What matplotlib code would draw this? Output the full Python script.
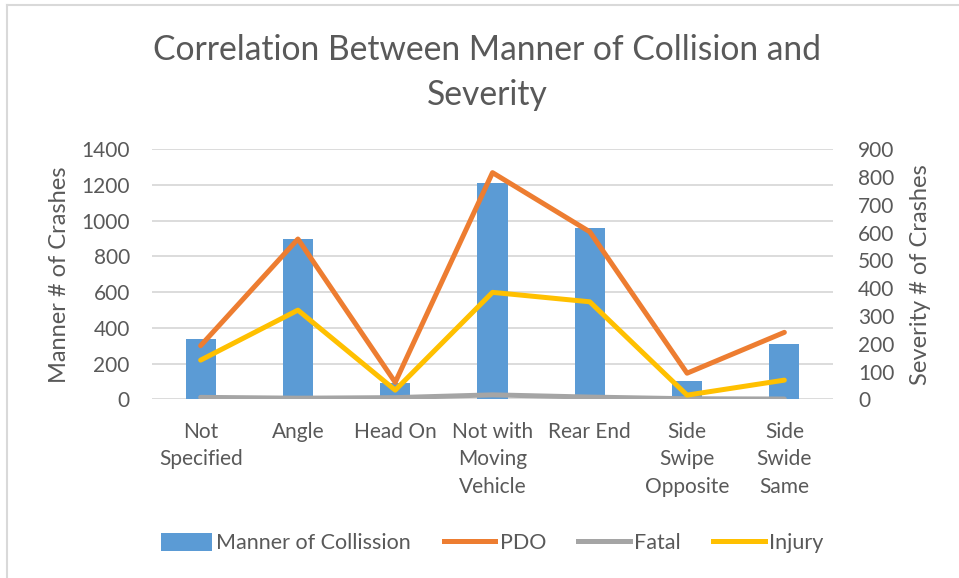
import matplotlib.pyplot as plt
from matplotlib.lines import Line2D
from matplotlib.patches import Patch
import numpy as np

categories = ["Not\nSpecified", "Angle", "Head On", "Not with\nMoving\nVehicle",
              "Rear End", "Side\nSwipe\nOpposite", "Side\nSwide\nSame"]
manner = [338, 898, 93, 1213, 958, 102, 310]
pdo = [193, 577, 61, 816, 603, 94, 241]
fatal = [7, 4, 6, 16, 8, 2, 1]
injury = [141, 321, 33, 385, 351, 15, 69]

left_ticks = list(range(0, 1401, 200))
right_ticks = list(range(0, 901, 100))

TEXT = "#595959"
GRID = "#D9D9D9"
BLUE = "#5B9BD5"
ORANGE = "#ED7D31"
GRAY = "#A5A5A5"
YELLOW = "#FFC000"

plt.rcParams["font.family"] = ["Lato", "DejaVu Sans"]

fig = plt.figure(figsize=(9.59, 5.78), dpi=100)
ax = fig.add_axes([152 / 959, 1 - 399.3 / 578, (833 - 152) / 959, 250 / 578])
ax2 = ax.twinx()

x = np.arange(len(categories))
ax.bar(x, manner, width=0.31, color=BLUE, zorder=2)

lw = 3.6
ax2.plot(x, pdo, color=ORANGE, lw=lw, solid_capstyle="round", solid_joinstyle="round", zorder=3)
ax2.plot(x, fatal, color=GRAY, lw=lw, solid_capstyle="round", solid_joinstyle="round", zorder=3)
ax2.plot(x, injury, color=YELLOW, lw=lw, solid_capstyle="round", solid_joinstyle="round", zorder=3)

ax.set_xlim(-0.5, len(categories) - 0.5)
ax.set_ylim(0, 1400)
ax2.set_ylim(0, 900)
ax.set_yticks(left_ticks)
ax2.set_yticks(right_ticks)
ax.set_xticks(x)
ax.set_xticklabels(categories, fontsize=15, color=TEXT, linespacing=1.48, va="top")

ax.grid(axis="y", color=GRID, lw=1.3, zorder=0)
ax.set_axisbelow(True)
for a in (ax, ax2):
    for s in a.spines.values():
        s.set_visible(False)
    a.tick_params(length=0, labelsize=15, labelcolor=TEXT)
ax.tick_params(axis="y", pad=16)
ax2.tick_params(axis="y", pad=18)
ax.tick_params(axis="x", pad=16)

ax.set_ylabel("Manner # of Crashes", fontsize=17, color=TEXT, labelpad=8)
ax2.set_ylabel("Severity # of Crashes", fontsize=17, color=TEXT, labelpad=11)

fig.text(0.508, 1 - 50 / 578, "Correlation Between Manner of Collision and",
         ha="center", va="center", fontsize=24.2, color=TEXT)
fig.text(0.508, 1 - 95 / 578, "Severity", ha="center", va="center", fontsize=24.2, color=TEXT)

handles = [
    Patch(facecolor=BLUE, label="Manner of Collission"),
    Line2D([0], [0], color=ORANGE, lw=lw, label="PDO"),
    Line2D([0], [0], color=GRAY, lw=lw, label="Fatal"),
    Line2D([0], [0], color=YELLOW, lw=lw, label="Injury"),
]
fig.legend(handles=handles, loc="center", bbox_to_anchor=(0.513, 1 - 543 / 578), ncol=4,
           frameon=False, fontsize=15.5, labelcolor=TEXT, handlelength=2.4,
           handletextpad=0.2, columnspacing=1.5, handleheight=0.9)

fig.add_artist(Line2D([7 / 959, 7 / 959], [0, 1 - 5 / 578], color=GRID, lw=1.5))
fig.add_artist(Line2D([7 / 959, 1], [1 - 5 / 578, 1 - 5 / 578], color=GRID, lw=1.5))

fig.savefig("out.png", dpi=100)
